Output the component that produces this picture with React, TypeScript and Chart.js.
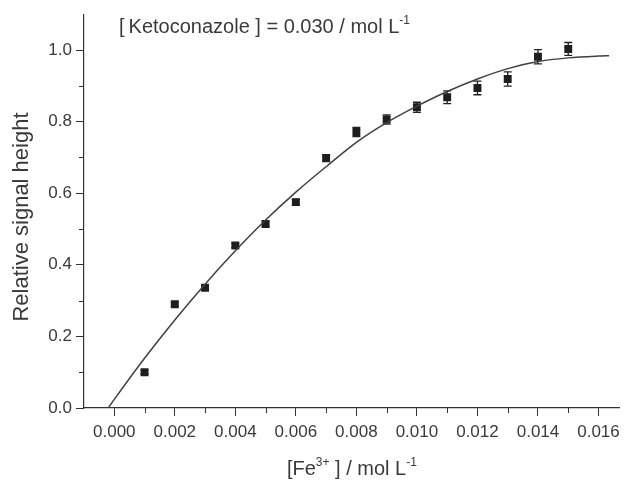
import React, { useEffect, useRef } from 'react';
import { Chart, registerables } from 'chart.js';

Chart.register(...registerables);

// ---- data ----
const feConcentration = [0.001, 0.002, 0.003, 0.004, 0.005, 0.006, 0.007, 0.008, 0.009, 0.010, 0.011, 0.012, 0.013, 0.014, 0.015];
const signalHeight = [0.100, 0.290, 0.336, 0.454, 0.514, 0.575, 0.698, 0.771, 0.806, 0.840, 0.868, 0.894, 0.919, 0.981, 1.003];
const signalError = [0.005, 0.006, 0.006, 0.006, 0.007, 0.008, 0.010, 0.013, 0.013, 0.014, 0.018, 0.019, 0.020, 0.020, 0.018];

const fitX = [-0.0002, 0.000, 0.001, 0.002, 0.003, 0.004, 0.005, 0.006, 0.007, 0.008, 0.009, 0.010, 0.011, 0.012, 0.013, 0.014, 0.015, 0.016, 0.01635];
const fitY = [0.000, 0.024, 0.139, 0.246, 0.346, 0.439, 0.525, 0.603, 0.674, 0.742, 0.797, 0.843, 0.884, 0.919, 0.948, 0.968, 0.978, 0.983, 0.984];

const xTickValues = [0.000, 0.002, 0.004, 0.006, 0.008, 0.010, 0.012, 0.014, 0.016];
const xTickLabels = ['0.000', '0.002', '0.004', '0.006', '0.008', '0.010', '0.012', '0.014', '0.016'];
const xMinorTicks = [0.001, 0.003, 0.005, 0.007, 0.009, 0.011, 0.013, 0.015];
const yTickValues = [0.0, 0.2, 0.4, 0.6, 0.8, 1.0];
const yTickLabels = ['0.0', '0.2', '0.4', '0.6', '0.8', '1.0'];
const yMinorTicks = [0.1, 0.3, 0.5, 0.7, 0.9];

const FONT = 'Arial, "Liberation Sans", Helvetica, sans-serif';
const TEXT_COLOR = '#3a3a3a';
const AXIS_COLOR = '#333333';

type Part = { t: string; sup?: boolean };

function drawRich(ctx: CanvasRenderingContext2D, parts: Part[], x: number, y: number, size: number, align: 'left' | 'center') {
  const supSize = Math.round(size * 0.62);
  let total = 0;
  const widths = parts.map((p) => {
    ctx.font = `${p.sup ? supSize : size}px ${FONT}`;
    const w = ctx.measureText(p.t).width;
    total += w;
    return w;
  });
  let cx = align === 'center' ? x - total / 2 : x;
  ctx.textBaseline = 'alphabetic';
  ctx.textAlign = 'left';
  parts.forEach((p, i) => {
    ctx.font = `${p.sup ? supSize : size}px ${FONT}`;
    ctx.fillText(p.t, cx, p.sup ? y - size * 0.45 : y);
    cx += widths[i];
  });
}

const decorPlugin = {
  id: 'decor',
  beforeDatasetsDraw(chart: any) {
    const ctx: CanvasRenderingContext2D = chart.ctx;
    const xs = chart.scales.x;
    const ys = chart.scales.y;
    ctx.save();
    ctx.strokeStyle = '#222';
    ctx.lineWidth = 1.3;
    feConcentration.forEach((c, i) => {
      const px = xs.getPixelForValue(c);
      const top = ys.getPixelForValue(signalHeight[i] + signalError[i]);
      const bot = ys.getPixelForValue(signalHeight[i] - signalError[i]);
      ctx.beginPath();
      ctx.moveTo(px, top);
      ctx.lineTo(px, bot);
      ctx.moveTo(px - 4, top);
      ctx.lineTo(px + 4, top);
      ctx.moveTo(px - 4, bot);
      ctx.lineTo(px + 4, bot);
      ctx.stroke();
    });
    ctx.restore();
  },
  afterDraw(chart: any) {
    const ctx: CanvasRenderingContext2D = chart.ctx;
    const xs = chart.scales.x;
    const ys = chart.scales.y;
    const area = chart.chartArea;
    ctx.save();
    // minor ticks
    ctx.strokeStyle = AXIS_COLOR;
    ctx.lineWidth = 1;
    ctx.beginPath();
    xMinorTicks.forEach((v) => {
      const px = Math.round(xs.getPixelForValue(v)) + 0.5;
      ctx.moveTo(px, area.bottom);
      ctx.lineTo(px, area.bottom + 5);
    });
    yMinorTicks.forEach((v) => {
      const py = Math.round(ys.getPixelForValue(v)) + 0.5;
      ctx.moveTo(area.left, py);
      ctx.lineTo(area.left - 5, py);
    });
    ctx.stroke();

    ctx.fillStyle = TEXT_COLOR;
    // top annotation
    drawRich(ctx, [
      { t: '[\u2009Ketoconazole ] = 0.030 / mol L' },
      { t: '-1', sup: true },
    ], 119, 33, 20, 'left');

    // x title
    drawRich(ctx, [
      { t: '[Fe' },
      { t: '3+', sup: true },
      { t: ' ] / mol L' },
      { t: '-1', sup: true },
    ], (area.left + area.right) / 2, 475, 20, 'center');

    // y title
    ctx.translate(28, 217);
    ctx.rotate(-Math.PI / 2);
    ctx.font = `22px ${FONT}`;
    ctx.textAlign = 'center';
    ctx.textBaseline = 'alphabetic';
    ctx.fillText('Relative signal height', 0, 0);
    ctx.restore();
  },
};

export default function App() {
  const canvasRef = useRef<HTMLCanvasElement | null>(null);

  useEffect(() => {
    const canvas = canvasRef.current;
    if (!canvas) return;
    const chart = new Chart(canvas, {
      type: 'scatter',
      data: {
        datasets: [
          {
            label: 'Relative signal height',
            data: feConcentration.map((c, i) => ({ x: c, y: signalHeight[i] })),
            pointStyle: 'rect',
            pointRadius: 5.6,
            pointBackgroundColor: '#1e1e1e',
            pointBorderColor: '#1e1e1e',
            pointBorderWidth: 0,
            showLine: false,
            order: 1,
          },
          {
            label: 'Fit',
            data: fitX.map((x, i) => ({ x, y: fitY[i] })),
            showLine: true,
            borderColor: '#404040',
            borderWidth: 1.5,
            pointRadius: 0,
            cubicInterpolationMode: 'monotone',
            fill: false,
            order: 0,
          } as any,
        ],
      },
      options: {
        responsive: false,
        animation: false,
        layout: { padding: { left: 0, right: 4, top: 6, bottom: 0 } },
        plugins: {
          legend: { display: false },
          tooltip: { enabled: false },
          title: { display: false },
        },
        scales: {
          x: {
            type: 'linear',
            min: -0.001,
            max: 0.0167,
            afterFit: (s: any) => { s.height = 76; },
            afterBuildTicks: (s: any) => { s.ticks = xTickValues.map((v) => ({ value: v })); },
            grid: { display: true, drawOnChartArea: false, drawTicks: true, tickLength: 8, color: AXIS_COLOR, tickColor: AXIS_COLOR },
            border: { display: true, color: AXIS_COLOR, width: 1.2 },
            ticks: {
              autoSkip: false,
              maxRotation: 0,
              padding: 6,
              color: TEXT_COLOR,
              font: { family: FONT, size: 17 },
              callback: (_v: any, i: number) => xTickLabels[i],
            },
          },
          y: {
            type: 'linear',
            min: 0,
            max: 1.1,
            afterFit: (s: any) => { s.width = 84; },
            afterBuildTicks: (s: any) => { s.ticks = yTickValues.map((v) => ({ value: v })); },
            grid: { display: true, drawOnChartArea: false, drawTicks: true, tickLength: 8, color: AXIS_COLOR, tickColor: AXIS_COLOR },
            border: { display: true, color: AXIS_COLOR, width: 1.2 },
            ticks: {
              autoSkip: false,
              padding: 4,
              color: TEXT_COLOR,
              font: { family: FONT, size: 17 },
              callback: (_v: any, i: number) => yTickLabels[i],
            },
          },
        },
      },
      plugins: [decorPlugin],
    });
    return () => chart.destroy();
  }, []);

  return (
    <div style={{ position: 'fixed', left: 0, top: 0, width: 626, height: 484, background: '#fff' }}>
      <canvas ref={canvasRef} width={626} height={484} style={{ display: 'block' }} />
    </div>
  );
}
